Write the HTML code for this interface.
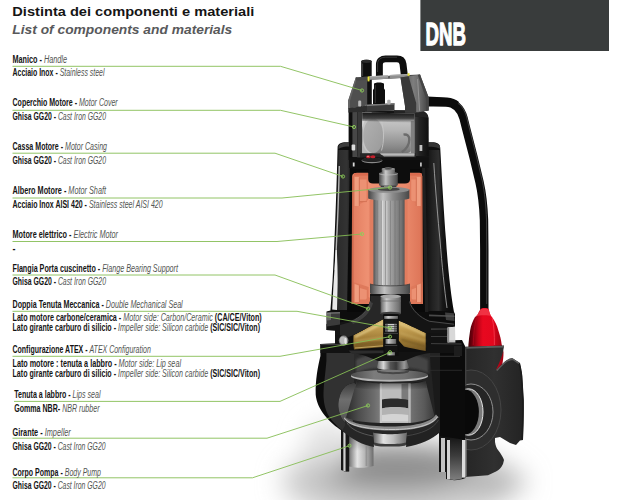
<!DOCTYPE html>
<html lang="it"><head><meta charset="utf-8"><title>DNB - Distinta dei componenti e materiali</title>
<style>
html,body{margin:0;padding:0;background:#fff;}
body{width:624px;height:500px;overflow:hidden;font-family:"Liberation Sans",sans-serif;}
svg{display:block;}
</style></head><body>
<svg width="624" height="500" viewBox="0 0 624 500">
<rect width="624" height="500" fill="#ffffff"/>
<defs>
  <filter id="blur14" x="-50%" y="-50%" width="200%" height="200%"><feGaussianBlur stdDeviation="13"/></filter>
  <filter id="blur5" x="-50%" y="-50%" width="200%" height="200%"><feGaussianBlur stdDeviation="5"/></filter>
  <filter id="blur2" x="-50%" y="-50%" width="200%" height="200%"><feGaussianBlur stdDeviation="1.6"/></filter>
  <filter id="blur1" x="-50%" y="-50%" width="200%" height="200%"><feGaussianBlur stdDeviation="0.8"/></filter>
  <linearGradient id="gFloat" x1="0" y1="0" x2="1" y2="0">
    <stop offset="0" stop-color="#3e0006"/><stop offset="0.14" stop-color="#7a000f"/><stop offset="0.3" stop-color="#c40418"/><stop offset="0.42" stop-color="#e8081f"/>
    <stop offset="0.72" stop-color="#e4071e"/><stop offset="0.8" stop-color="#c40418"/><stop offset="1" stop-color="#9a0312"/>
  </linearGradient>
  <linearGradient id="gRotor" x1="0" y1="0" x2="1" y2="0">
    <stop offset="0" stop-color="#525252"/><stop offset="0.1" stop-color="#858585"/><stop offset="0.3" stop-color="#cacaca"/>
    <stop offset="0.5" stop-color="#a8a8a8"/><stop offset="0.72" stop-color="#8a8a8a"/><stop offset="0.9" stop-color="#727272"/><stop offset="1" stop-color="#545454"/>
  </linearGradient>
  <linearGradient id="gRing" x1="0" y1="0" x2="1" y2="0">
    <stop offset="0" stop-color="#454545"/><stop offset="0.15" stop-color="#7a7a7a"/><stop offset="0.36" stop-color="#c2c2c2"/>
    <stop offset="0.6" stop-color="#8a8a8a"/><stop offset="0.85" stop-color="#626262"/><stop offset="1" stop-color="#474747"/>
  </linearGradient>
  <linearGradient id="gOrange" x1="0" y1="0" x2="1" y2="0">
    <stop offset="0" stop-color="#e27c5f"/><stop offset="0.22" stop-color="#ee9072"/><stop offset="0.75" stop-color="#ea896b"/><stop offset="1" stop-color="#dc7356"/>
  </linearGradient>
  <linearGradient id="gCap" x1="0" y1="0" x2="0" y2="1">
    <stop offset="0" stop-color="#c9c9c9"/><stop offset="0.35" stop-color="#b4b4b4"/><stop offset="0.8" stop-color="#8c8c8c"/><stop offset="1" stop-color="#767676"/>
  </linearGradient>
  <linearGradient id="gGold" x1="0" y1="0" x2="0" y2="1">
    <stop offset="0" stop-color="#dcc079"/><stop offset="0.3" stop-color="#c09c50"/><stop offset="0.65" stop-color="#a17d37"/><stop offset="1" stop-color="#745723"/>
  </linearGradient>
  <linearGradient id="gLeg" x1="0" y1="0" x2="1" y2="0">
    <stop offset="0" stop-color="#2a2a2a"/><stop offset="0.18" stop-color="#565656"/><stop offset="0.5" stop-color="#e4e4e4"/><stop offset="0.8" stop-color="#a9a9a9"/><stop offset="1" stop-color="#6c6c6c"/>
  </linearGradient>
  <linearGradient id="gLegShade" x1="0" y1="0" x2="0" y2="1">
    <stop offset="0" stop-color="#000" stop-opacity="0.85"/><stop offset="0.45" stop-color="#000" stop-opacity="0.25"/><stop offset="1" stop-color="#000" stop-opacity="0"/>
  </linearGradient>
  <linearGradient id="gImp" x1="0" y1="0" x2="1" y2="0">
    <stop offset="0" stop-color="#3c3c3c"/><stop offset="0.25" stop-color="#6c6c6c"/><stop offset="0.6" stop-color="#787878"/><stop offset="1" stop-color="#8c8c8c"/>
  </linearGradient>
  <linearGradient id="gImpOpen" x1="0" y1="0" x2="0" y2="1">
    <stop offset="0" stop-color="#5c5c5c"/><stop offset="0.35" stop-color="#8a8a8a"/><stop offset="0.7" stop-color="#dadada"/><stop offset="1" stop-color="#f4f4f4"/>
  </linearGradient>
  <linearGradient id="gHub" x1="0" y1="0" x2="1" y2="0">
    <stop offset="0" stop-color="#5a5a5a"/><stop offset="0.3" stop-color="#e2e2e2"/><stop offset="0.6" stop-color="#bdbdbd"/><stop offset="1" stop-color="#6a6a6a"/>
  </linearGradient>
  <linearGradient id="gBracketR" x1="0" y1="0" x2="1" y2="0">
    <stop offset="0" stop-color="#4a4a4a"/><stop offset="0.45" stop-color="#7e7e7e"/><stop offset="0.7" stop-color="#6a6a6a"/><stop offset="1" stop-color="#3e3e3e"/>
  </linearGradient>
</defs>
<!-- ground shadow -->
<g filter="url(#blur14)">
  <ellipse cx="400" cy="482" rx="118" ry="40" fill="#cbcbcb"/>
  <ellipse cx="394" cy="468" rx="80" ry="23" fill="#8e8e8e"/>
  <ellipse cx="328" cy="446" rx="24" ry="24" fill="#e0e0e0"/>
  <ellipse cx="496" cy="482" rx="30" ry="12" fill="#b4b4b4"/>
</g>

<!-- ===== CABLE ===== -->
<path d="M427,101.5 L446,102.3 C455,102.8 460.5,108 463.5,118 L466,128 L473.5,157 L479.5,182 C482,193 483.4,205 484,220 L484.3,250 L484.3,310" fill="none" stroke="#0b0b0b" stroke-width="8.4" stroke-linejoin="round"/>
<path d="M430,98.8 L447,99.6 C457,100.2 463.5,106 466.6,117 L469,127 L476.4,156 L482.3,181 C484.6,192 486,205 486.5,220 L486.7,250 L486.7,304" fill="none" stroke="#555" stroke-width="1" opacity="0.7"/>
<path d="M427,96.6 L447,97.4 C452,97.8 456,99.4 459,102 L454,108.4 C452,107 449,106.4 446,106.4 L427,106.4 Z" fill="#0b0b0b"/>

<!-- ===== FLOAT ===== -->
<path d="M480.6,309 C481,307.5 488,307.5 488.6,309 L489.5,312 C490,314.5 491,316 492,317 C495,321 497.2,326 498.2,330 C500,335.5 501.2,340 501.6,344 L503.5,352 C503.5,362 501.5,370 498,375 L468,375 L468.4,345 C468.8,340 469.4,335 470.2,330 C471,325.5 472.8,320.5 475,317 C476.5,316 478,314.5 478.8,312 Z" fill="url(#gFloat)"/>
<!-- collar highlight -->
<path d="M480.8,309.2 C482,308.2 487.4,308.2 488.4,309.2 L489.3,312.2 C489.8,314 490.6,315.3 491.4,316.4 C488,315 479.5,315 475.8,316.6 C477,315.5 478.4,314 479,312.2 Z" fill="#f2394a" opacity="0.85"/>
<!-- facet edges -->
<path d="M476.4,318 C474.5,326 473.5,335 473.2,345" fill="none" stroke="#b80a1c" stroke-width="0.9" opacity="0.7"/>
<path d="M492.2,318 C494,326 494.6,335 494.4,345" fill="none" stroke="#ff5566" stroke-width="0.9" opacity="0.6"/>

<!-- ===== LEGS ===== -->
<defs>
  <linearGradient id="gLegR" x1="0" y1="0" x2="0" y2="1">
    <stop offset="0" stop-color="#141414"/><stop offset="0.45" stop-color="#3c3c3c"/><stop offset="1" stop-color="#7e7e7e"/>
  </linearGradient>
</defs>
<!-- right leg -->
<path d="M439,432 L465.5,432 L465.5,478 C460,480.5 452,480.8 446,479 L446,472 L439,472 Z" fill="#151515"/>
<path d="M450,436 L462,436 L462,478.6 C458,480 454,480.2 450,479.6 Z" fill="url(#gLegR)"/>
<rect x="441" y="438" width="4" height="34" fill="#c3c3c3"/>
<rect x="447" y="440" width="3" height="39.4" fill="#d2d2d2"/>
<rect x="462" y="440" width="3.4" height="37.6" fill="#dcdcdc"/>
<!-- left leg -->
<path d="M341,427 L373.5,430 L373.5,466 C366,468.5 357,468 349,466.5 L349,471.5 L344.5,471.5 L341,470 Z" fill="url(#gLeg)"/>
<rect x="341" y="427" width="32.5" height="24" fill="url(#gLegShade)"/>
<rect x="365.6" y="440" width="1.6" height="26" fill="#8a8a8a" opacity="0.7"/>
<rect x="341" y="427" width="2.2" height="43" fill="#151515"/>
<rect x="343.4" y="432" width="2.2" height="39" fill="#cfcfcf"/>
<rect x="345.8" y="430" width="3.4" height="41.5" fill="#181818"/>

<!-- ===== PUMP BODY (volute) ===== -->
<defs>
  <linearGradient id="gInnerWall" x1="0" y1="0" x2="0" y2="1">
    <stop offset="0" stop-color="#3a3a3a"/><stop offset="0.35" stop-color="#6e6e6e"/><stop offset="0.7" stop-color="#5a5a5a"/><stop offset="1" stop-color="#2c2c2c"/>
  </linearGradient>
  <radialGradient id="gVolOut" cx="0.35" cy="0.45" r="0.6">
    <stop offset="0" stop-color="#1f1f1f"/><stop offset="1" stop-color="#0a0a0a"/>
  </radialGradient>
</defs>
<!-- outer silhouette -->
<path d="M320.4,344 L462,340 L465,346 L465,437 L440,432 C432,438 420,443 408.5,444.5 L376,444.5 C364,443 352,437 342,430.7 C330,423 317,410 315.7,394.7 C315.2,380 318,366 320.4,356 Z" fill="#0c0c0c"/>
<!-- cut face (dark gray) -->
<path d="M326.4,346.6 L354,346.6 L354,382.7 C350,383.5 347.5,384.7 345.6,386.3 C342.5,389.5 340.5,393 339.6,397 C338.6,400.5 338.2,403.5 338.4,406.7 C338.8,411 340,415 342,418.7 C344.5,423 348,426.5 351.7,429.5 L343.2,430.7 C340.5,429 338,427 336,424.7 C332.5,421.5 329.8,418 327.6,413.9 C325.8,410 324.6,406 324,401.9 C323.5,398.5 323.4,395.5 323.5,392.3 C323.6,387.5 324,382.5 324.7,377.9 C325.3,372.5 325.9,367 326.4,361 Z" fill="#313131"/>
<path d="M326.4,346.6 L354,346.6 L354,350 L326.4,350 Z" fill="#232323"/>
<!-- under-plate region / interior background -->
<path d="M354,352 L440,352 L440,432 C432,438 420,443 408.5,444.5 L376,444.5 C366,443.3 358,439.5 351.7,429.5 C348,426.5 344.5,423 342,418.7 C340,415 338.8,411 338.4,406.7 C338.2,403.5 338.6,400.5 339.6,397 C340.5,393 342.5,389.5 345.6,386.3 C347.5,384.7 350,383.5 354,382.7 Z" fill="#232323"/>
<!-- inner wall crescent (lighter) -->
<path d="M354,382.7 C350,383.5 347.5,384.7 345.6,386.3 C342.5,389.5 340.5,393 339.6,397 C338.6,400.5 338.2,403.5 338.4,406.7 C338.8,411 340,415 342,418.7 C344.5,423 348,426.5 351.7,429.5 L356.5,430.5 C353.5,425 351.8,419 351.7,411.5 C351.7,402 353.5,392 356.5,385 Z" fill="url(#gInnerWall)"/>
<!-- right interior wall (behind impeller) -->
<path d="M430,356 L440,356 L440,430 L436,420 Z" fill="#1a1a1a"/>

<!-- ===== IMPELLER ===== -->
<defs>
  <linearGradient id="gImpL" x1="0" y1="0" x2="1" y2="0">
    <stop offset="0" stop-color="#2a2a2a"/><stop offset="0.35" stop-color="#4c4c4c"/><stop offset="0.8" stop-color="#6c6c6c"/><stop offset="1" stop-color="#7e7e7e"/>
  </linearGradient>
  <linearGradient id="gImpR" x1="0" y1="0" x2="1" y2="0">
    <stop offset="0" stop-color="#9c9c9c"/><stop offset="0.12" stop-color="#707070"/><stop offset="0.6" stop-color="#5a5a5a"/><stop offset="1" stop-color="#3a3a3a"/>
  </linearGradient>
  <linearGradient id="gImpTopShade" x1="0" y1="0" x2="0" y2="1">
    <stop offset="0" stop-color="#000" stop-opacity="0.55"/><stop offset="1" stop-color="#000" stop-opacity="0"/>
  </linearGradient>
  <linearGradient id="gCollar" x1="0" y1="0" x2="1" y2="0">
    <stop offset="0" stop-color="#6a6a6a"/><stop offset="0.2" stop-color="#d8d8d8"/><stop offset="0.42" stop-color="#555"/><stop offset="0.6" stop-color="#3a3a3a"/><stop offset="0.85" stop-color="#9a9a9a"/><stop offset="1" stop-color="#555"/>
  </linearGradient>
  <linearGradient id="gShroud" x1="0" y1="0" x2="1" y2="0">
    <stop offset="0" stop-color="#4c4c4c"/><stop offset="0.3" stop-color="#7c7c7c"/><stop offset="0.7" stop-color="#727272"/><stop offset="1" stop-color="#4e4e4e"/>
  </linearGradient>
</defs>
<!-- dark neck region under seal plate -->
<path d="M354,353 L430,353 L430,374 L354,374 Z" fill="#2a2a2a"/>
<path d="M356,360 C362,356 372,354.5 380,354.5 L380,368 C370,368.5 362,370 356,373 Z" fill="#4a4a4a" filter="url(#blur1)"/>
<path d="M428,360 C422,356 412,354.5 405,354.5 L405,368 C414,368.5 422,370 428,373 Z" fill="#444" filter="url(#blur1)"/>
<!-- silver collar -->
<path d="M379,358.5 C379,355.5 406,355.5 406,358.5 L409,367.5 C409,371 377,371 377,367.5 Z" fill="url(#gCollar)"/>
<ellipse cx="392.5" cy="358.3" rx="13.5" ry="3" fill="#bdbdbd"/>
<ellipse cx="392.5" cy="358" rx="9" ry="2" fill="#1b1b1b"/>
<!-- top shroud (disc) -->
<ellipse cx="389.5" cy="376.2" rx="38.6" ry="5.6" fill="#b4b4b4"/>
<ellipse cx="389.5" cy="374.8" rx="38.4" ry="5" fill="url(#gShroud)"/>
<path d="M377,369.5 C377,373 409,373 409,369.5 L409,371.5 C409,375 377,375 377,371.5 Z" fill="#3c3c3c" opacity="0.8"/>
<!-- impeller body left -->
<path d="M357,380.5 C364,382.8 375,383.4 381,383.5 L381,423 C368,422.5 352,421 346,417.5 Z" fill="url(#gImpL)"/>
<!-- impeller body right -->
<path d="M408.5,383.5 C416,383.3 421,382.5 425.5,381 L434.5,416 C430,420 418,422.5 408.5,423 Z" fill="url(#gImpR)"/>
<!-- opening -->
<path d="M381,383.5 L408.5,383.5 L408.5,423 L381,423 Z" fill="#bcbcbc"/>
<path d="M401.5,384 L408.5,384 L408.5,400.5 L401.5,400.5 Z" fill="#7b7b7b"/>
<path d="M382,399.5 C390,398 400,398 408.5,400 L408.5,408.5 C400,406.5 390,406.5 382,408.5 Z" fill="#2c2c2c"/>
<path d="M382,408.5 C390,406.5 400,406.5 408.5,408.5 L408.5,421.5 L382,421.5 Z" fill="#b2b2b2"/>
<path d="M382,415 C390,413.5 400,413.5 408.5,415 L408.5,421.5 L382,421.5 Z" fill="#d4d4d4"/>
<!-- vane edges -->
<rect x="379.8" y="383.5" width="2.2" height="39.5" fill="#c9c9c9"/>
<rect x="408.3" y="383.3" width="2.4" height="39.5" fill="#b8b8b8"/>
<!-- shadow under top shroud -->
<path d="M357,380.5 C370,384.5 410,384.5 425.5,381 L427,388 C410,391 370,391 355.5,387.5 Z" fill="url(#gImpTopShade)"/>
<!-- bottom shroud ring -->
<path d="M344,416.5 C350,424.5 372,426.5 392,426.5 C412,426.5 431,423 436,414.5 L438.5,417.5 C433,429 413,433 392,433 C371,433 351,430.5 345,421.5 Z" fill="#8a8a8a"/>
<path d="M344.5,419 C350,428 372,430.5 392,430.5 C412,430.5 432,427 437.8,417.5 L438.5,419.5 C433,431 413,435 392,435 C371,435 351,432.5 345,423.5 Z" fill="#262626"/>
<path d="M344.3,418.3 C350,427 372,429.5 392,429.5 C412,429.5 432,426 437.6,416.6" fill="none" stroke="#c9c9c9" stroke-width="1"/>
<!-- hub below -->
<path d="M373,432.5 C380,434.8 400,434.8 407,432.5 L406,443 C400,445 380,445 374,443 Z" fill="url(#gHub)"/>
<path d="M374,442.6 C380,444.6 400,444.6 406,442.6 L405.6,445.4 C400,447 380,447 374.4,445.4 Z" fill="#3d3d3d"/>
<!-- volute lower lip (black) in front -->
<path d="M342,430.7 C345,426 346,423 346.5,421.5 C351,430 362,434 373,436 L374,447 C362,445 352,439 342,430.7 Z" fill="#262626"/>
<path d="M440,432 C441,426 440.5,422 439,418.5 C434,429 421,433.5 407,435.8 L406,447 C420,445 432,439.5 440,432 Z" fill="#222"/>
<path d="M346.8,422.5 C351,430 362,434 373,436" fill="none" stroke="#5e5e5e" stroke-width="0.9"/>
<path d="M438.5,420 C433,429.5 421,433.5 407,435.8" fill="none" stroke="#484848" stroke-width="0.9"/>

<!-- ===== DISCHARGE FLANGE ===== -->
<defs>
  <linearGradient id="gFlangeFace" x1="0" y1="0" x2="1" y2="0">
    <stop offset="0" stop-color="#262626"/><stop offset="0.5" stop-color="#303030"/><stop offset="1" stop-color="#232323"/>
  </linearGradient>
  <clipPath id="clipFlange">
    <path d="M465,346.8 L504,345.6 C503.5,352 501,360 496,370 C500,366 504,362 507,360 C509.5,358.6 511.5,358.2 513,358.4 L520,363 C521.5,369 522.5,375 522.6,380 L523.8,400 C524,414 523.6,428 523,440 L520,440.5 L516,445 L510,443 L500,437 L495,438 L495,442 C495.6,446 496.8,448.5 498,450 C501,454 503,457 504,460 L503,464 C501,468 499,470 496,471.5 L488,475.3 L465,477 Z"/>
  </clipPath>
</defs>
<!-- discharge neck (dark) behind flange -->
<path d="M440,352 L466,352 L466,440 L440,436 Z" fill="#0b0b0b"/>
<!-- flange silhouette -->
<path d="M465,346.8 L504,345.6 C503.5,352 501,360 496,370 C500,366 504,362 507,360 C509.5,358.6 511.5,358.2 513,358.4 L520,363 C521.5,369 522.5,375 522.6,380 L523.8,400 C524,414 523.6,428 523,440 L520,440.5 L516,445 L510,443 L500,437 L495,438 L495,442 C495.6,446 496.8,448.5 498,450 C501,454 503,457 504,460 L503,464 C501,468 499,470 496,471.5 L488,475.3 L465,477 Z" fill="url(#gFlangeFace)"/>
<g clip-path="url(#clipFlange)">
  <!-- boss ring -->
  <ellipse cx="471" cy="410" rx="30" ry="40" fill="#2e2e2e" stroke="#484848" stroke-width="0.9"/>
  <!-- outer port ring -->
  <ellipse cx="471" cy="412" rx="22" ry="28" fill="#252525" stroke="#a9a9a9" stroke-width="0.8"/>
  <!-- pipe inner wall crescent -->
  <ellipse cx="468.5" cy="412" rx="14.5" ry="23.2" fill="#7a7a7a" stroke="#e6e6e6" stroke-width="1"/>
  <ellipse cx="465.3" cy="412" rx="13.6" ry="22.4" fill="#090909"/>
  <!-- bevel highlights -->
  <path d="M465,346.8 L504,345.6 L503.8,347.6 L465,348.8 Z" fill="#5a5a5a"/>
  <path d="M497.5,371 C501,367 504.5,363.6 507.5,361.6 C510,360.2 511.8,360 513,360.2 L518.6,364 L520,363 L513,358.4 C511.5,358.2 509.5,358.6 507,360 C504,362 500,366 496,370 Z" fill="#5c5c5c"/>
  <path d="M518.6,364 C520,370 520.8,375 521,380 L522.2,400 C522.4,414 522,428 521.4,439 L523,440 C523.6,428 524,414 523.8,400 L522.6,380 C522.5,375 521.5,369 520,363 Z" fill="#1b1b1b"/>
  <!-- left side face of bottom lobe (lit) -->
  <path d="M465,440 L466.6,440 L466.6,476.6 L465,477 Z" fill="#8c8c8c"/>
  <path d="M465,346.8 L466.4,346.8 L466.4,386 L465,386 Z" fill="#3f3f3f"/>
</g>

<!-- ===== MOTOR CASING ===== -->
<defs>
  <linearGradient id="gCaseR" x1="0" y1="0" x2="1" y2="0">
    <stop offset="0" stop-color="#0b0b0b"/><stop offset="0.3" stop-color="#222"/><stop offset="0.5" stop-color="#2e2e2e"/><stop offset="0.65" stop-color="#161616"/><stop offset="1" stop-color="#0a0a0a"/>
  </linearGradient>
  <linearGradient id="gCaseL" x1="0" y1="0" x2="1" y2="0">
    <stop offset="0" stop-color="#0c0c0c"/><stop offset="0.3" stop-color="#2b2b2b"/><stop offset="0.75" stop-color="#333"/><stop offset="1" stop-color="#1a1a1a"/>
  </linearGradient>
</defs>
<!-- outer silhouette -->
<path d="M337.6,147.5 C337.6,144 341,142.3 346,142.3 L432,142.3 C437,142.3 440,144 440.2,147.5 C442,180 444,215 446,240 C448,270 451,295 454,312 L455,314 L455,326.5 L447.5,327.5 L447.5,342 L335,342 L335,330.5 L326.5,330 L326.5,311.5 L330.4,310.5 C331.2,300 332,290 332.6,280 C334,255 336.3,200 337.6,147.5 Z" fill="#0d0d0d"/>
<!-- left wall tone -->
<path d="M338.5,150 L352,150 L352,310 L331.4,310 C332.2,300 333,290 333.6,280 C335,255 337.3,200 338.5,150 Z" fill="url(#gCaseL)"/>
<!-- right side glossy -->
<path d="M424,150 L439.5,150 C441,180 443.2,215 445.2,240 C447.2,270 450,295 453,311 L424,311 Z" fill="url(#gCaseR)"/>
<path d="M433.8,163 C435.5,190 438,220 440,240 C442,265 444.5,290 447,308" fill="none" stroke="#b0b0b0" stroke-width="1" opacity="0.8"/>
<!-- left rim light -->
<path d="M339.3,166 C338.6,195 337.6,222 336.6,240 C336,252 335.6,262 335.3,270" fill="none" stroke="#c4c4c4" stroke-width="1.4" opacity="0.9"/>
<path d="M335.6,250 C335,262 334.2,275 333.4,286 L332.2,309.6 L337,310 L337.6,286 C337.8,274 337.4,262 336.8,250 Z" fill="#f4f4f4" opacity="0.95"/>
<!-- interior cavity (cutaway) -->
<path d="M350,160 L422,160 L427,312 L347,312 Z" fill="#090909"/>
<path d="M422,160 L425,160 L428.5,312 L425,312 Z" fill="#1f1f1f"/>

<!-- ===== STATOR (orange) ===== -->
<path d="M352.2,176 C352.2,174 354,173 356,173 L419,173 C421,173 422.2,174 422.2,176 L423,304 L351.5,304 Z" fill="url(#gOrange)"/>
<!-- winding heads top -->
<path d="M353.4,175.5 C353.4,173.6 355,172.8 357,172.8 L368,172.8 L368,183.5 L368.2,200 L353.4,207 Z" fill="#e07b5d"/>
<path d="M354.6,177 L359,177 L359,206 L354.6,206 Z" fill="#f09d7f"/>
<path d="M359.6,179.5 L366.6,179.5 L366.6,199 C366.6,200.5 365.6,201.2 364.4,201.2 L359.6,201.2 Z" fill="#ec9173"/>
<path d="M359.3,177.5 L359.3,206" stroke="#cf6f52" stroke-width="0.8" fill="none"/>
<path d="M359.6,201.6 L367,201.6" stroke="#cf6f52" stroke-width="0.8" fill="none"/>
<path d="M354,173.2 L368,173.2 L368,175.6 L354,175.6 Z" fill="#d96a4e"/>
<path d="M410,172.8 L419.5,172.8 C421,172.8 421.8,173.8 421.8,175.5 L422,207 L410.2,200 Z" fill="#e07b5d"/>
<path d="M416.6,177 L420.8,177 L420.8,206 L416.6,206 Z" fill="#f09d7f"/>
<path d="M411.2,179.5 L416,179.5 L416,201.2 L413,201.2 C411.8,201.2 411.2,200.4 411.2,199 Z" fill="#ec9173"/>
<path d="M416.3,177.5 L416.3,206" stroke="#cf6f52" stroke-width="0.8" fill="none"/>
<path d="M410,173.2 L421.6,173.2 L421.6,175.6 L410,175.6 Z" fill="#d96a4e"/>
<!-- winding heads bottom -->
<path d="M353.2,282 L368.6,287 L368.6,297 L371.5,299 L371.5,304 L352.6,304 Z" fill="#de795b"/>
<path d="M354.6,284 L359,285.4 L359,302 L354.6,302 Z" fill="#f09d7f"/>
<path d="M359.8,288 L366.8,290 L366.8,297.6 C366.8,299 366,299.6 364.8,299.6 L359.8,299.6 Z" fill="#ec9173"/>
<path d="M359.4,285.6 L359.4,302" stroke="#cf6f52" stroke-width="0.8" fill="none"/>
<path d="M422.4,282 L410.6,287 L410.6,297 L408,299 L408,304 L423,304 Z" fill="#de795b"/>
<path d="M416.8,285 L421.2,283.6 L421.4,302 L416.8,302 Z" fill="#f09d7f"/>
<path d="M411.6,289.6 L416.2,287.8 L416.2,299.6 L413.4,299.6 C412.2,299.6 411.6,299 411.6,297.6 Z" fill="#ec9173"/>
<path d="M416.5,285.4 L416.5,302" stroke="#cf6f52" stroke-width="0.8" fill="none"/>
<!-- stator edge shading -->
<rect x="352" y="176" width="1.6" height="128" fill="#c96448" opacity="0.8"/>
<rect x="420.8" y="176" width="1.6" height="128" fill="#c96448" opacity="0.7"/>
<rect x="369.5" y="200" width="3.8" height="86" fill="#d87356" opacity="0.65"/>
<rect x="404" y="200" width="3.6" height="86" fill="#d87356" opacity="0.55"/>

<!-- ===== ROTOR ===== -->
<rect x="373.4" y="198" width="31.2" height="88" fill="url(#gRotor)"/>
<g stroke="#555" stroke-width="0.7" opacity="0.5">
  <line x1="377.2" y1="200" x2="377.2" y2="285"/><line x1="381.2" y1="200" x2="381.2" y2="285"/>
  <line x1="385.6" y1="200" x2="385.6" y2="285"/><line x1="390.4" y1="200" x2="390.4" y2="285"/>
  <line x1="395" y1="200" x2="395" y2="285"/><line x1="399.4" y1="200" x2="399.4" y2="285"/>
</g>
<g stroke="#f4f4f4" stroke-width="0.8" opacity="0.55">
  <line x1="382.4" y1="200" x2="382.4" y2="285"/><line x1="386.8" y1="200" x2="386.8" y2="285"/>
</g>
<!-- upper bearing housing (black cup) -->
<path d="M353,160 L420,160 L420,169 L410,169 L410,179.5 C410,182 408,183.6 405,183.6 L373,183.6 C370,183.6 368.2,182 368.2,179.5 L368.2,169 L353,169 Z" fill="#0d0d0d"/>
<!-- bearing (silver) -->
<path d="M379,173.5 C379,171.6 397.8,171.6 397.8,173.5 L397.8,185 C397.8,187 379,187 379,185 Z" fill="url(#gRing)"/>
<path d="M381.7,169 C381.7,167.4 395,167.4 395,169 L395,173 C395,174.6 381.7,174.6 381.7,173 Z" fill="url(#gRotor)"/>
<ellipse cx="388.35" cy="169" rx="6.65" ry="1.5" fill="#8e8e8e"/>
<ellipse cx="388.35" cy="168.8" rx="3.6" ry="0.8" fill="#4a4a4a"/>
<path d="M379,173.5 C379,175.4 397.8,175.4 397.8,173.5" fill="none" stroke="#cfcfcf" stroke-width="0.7" opacity="0.8"/>
<!-- dark gap / shaft -->
<path d="M380.6,185.6 L396.4,185.6 L396.4,189.5 L380.6,189.5 Z" fill="#3a3a3a"/>
<rect x="384" y="185.8" width="8" height="3.6" fill="#7d7d7d"/>
<!-- top rotor ring -->
<path d="M368.2,189.6 L409.4,189.6 L409.4,198.6 C404,201.6 374,201.6 368.2,198.6 Z" fill="url(#gRing)"/>
<ellipse cx="388.8" cy="189.8" rx="20.6" ry="3" fill="#8c8c8c"/>
<ellipse cx="388.8" cy="189.3" rx="11" ry="1.7" fill="#454545"/>
<!-- bottom rotor ring -->
<path d="M370,284 C376,286.5 404,286.5 410,284 L410,293.5 C404,296.5 376,296.5 370,293.5 Z" fill="url(#gRing)"/>
<path d="M370,284 C376,286.5 404,286.5 410,284" fill="none" stroke="#3a3a3a" stroke-width="0.8"/>

<!-- ===== BEARING FLANGE / OIL CHAMBER / SEAL ===== -->
<!-- pump-body top flange (black) -->
<path d="M335,330 L447.5,330 L447.5,342.5 L462,343 L462,353 L430,353 C420,354 412,357.5 404,361 L378,361 C370,357.5 362,354 352,353 L320.4,353 L320.4,344 L335,343.4 Z" fill="#121212"/>
<path d="M321,344.6 L340,344.6" stroke="#4b4b4b" stroke-width="0.8" fill="none"/>
<path d="M431,343.6 L461.5,344" stroke="#4a4a4a" stroke-width="0.8" fill="none"/>
<!-- oil chamber background -->
<path d="M348.5,318 L426.5,318 L426.5,352 L348.5,352 Z" fill="#0e0e0e"/>
<!-- gold wings -->
<path d="M353.6,335 C360,331.5 370,326.5 377,322.4 L383.4,319 L383.4,347 L354,349.5 C353.3,345 353.3,339 353.6,335 Z" fill="url(#gGold)"/>
<path d="M398.6,320.5 C406,323.5 416,328.5 425.7,332.8 L425.7,351 C418,349.5 410,348 404,346.5 L398.6,340.5 Z" fill="url(#gGold)"/>
<path d="M355,337 C362,333.5 371,329 382.5,323" fill="none" stroke="#f3e0a0" stroke-width="1.8" opacity="0.85" filter="url(#blur1)"/>
<path d="M400,323.5 C408,327 417,331 425,335" fill="none" stroke="#ecd590" stroke-width="1.6" opacity="0.75" filter="url(#blur1)"/>
<path d="M355,341.3 L383,337.5" fill="none" stroke="#e2c67c" stroke-width="1.2" opacity="0.75" filter="url(#blur1)"/>
<path d="M355,344.8 L383,342.3" fill="none" stroke="#6a4f1f" stroke-width="1.5" opacity="0.75" filter="url(#blur1)"/>
<path d="M400,333 L425.5,341" fill="none" stroke="#e0c47a" stroke-width="1.1" opacity="0.6" filter="url(#blur1)"/>
<path d="M401,339.5 L425.5,346.5" fill="none" stroke="#6a4f1f" stroke-width="1.6" opacity="0.75" filter="url(#blur1)"/>
<path d="M355,348 L383,345.8" fill="none" stroke="#d9bd74" stroke-width="0.9" opacity="0.8"/>
<!-- bearing flange body (black bell) : band between upper outline and gold top -->
<path d="M370,294 L410,294 L410,301 C412,309 420,317 430,321 L455,324 L455,326.5 L447.5,327.5 L447.5,334 L425.7,333 C416,328.5 406,323.5 398.6,320.5 L398.6,313 L383.4,313 L383.4,319 L377,322.4 C370,326.5 360,331.5 353.6,335 L348.5,337 L335,335 L335,330.5 L326.5,330 L326.5,324 L350,321 C360,317 368,309 370,301 Z" fill="#141414"/>
<!-- cut face of bell (slightly lighter) -->
<path d="M370.5,296 L380,296 L380,313.5 L383.4,313.5 L383.4,319 L377,322.4 C370,326.5 360,331.5 353.6,335 L348.5,337 L340,335 L340,325 L351,322 C361,318 369,310 370.5,302 Z" fill="#272727"/>
<path d="M351,321.5 C361,317.5 369,309.5 370.5,301.5" fill="none" stroke="#5a5a5a" stroke-width="0.9"/>
<path d="M409.5,301.5 C411.5,309.5 419.5,317.5 429.5,321.3 L454,324.2" fill="none" stroke="#505050" stroke-width="0.9"/>
<path d="M327,312.5 L340,312 L340,324.6 L327,326.4 Z" fill="#3a3a3a"/>
<path d="M327,312.5 L340,312 L340,313.4 L327,314 Z" fill="#6a6a6a"/>
<path d="M351.5,321.5 C361,317.5 368.5,310 370.3,302 L373,303 C371,312 363,320 353,324 Z" fill="#454545" opacity="0.8"/>
<!-- lower bearing (silver) -->
<rect x="380.4" y="296" width="20.6" height="18" fill="url(#gRotor)"/>
<ellipse cx="390.7" cy="296.3" rx="10.3" ry="2" fill="#a8a8a8"/>
<rect x="380.4" y="300.5" width="20.6" height="1" fill="#6a6a6a" opacity="0.7"/>
<ellipse cx="390.7" cy="313.6" rx="10.3" ry="1.8" fill="#3c3c3c"/>
<!-- mechanical seal stack -->
<rect x="383.4" y="314" width="15.2" height="42" fill="#0e0e0e"/>
<rect x="384" y="316" width="14" height="2.8" fill="url(#gRotor)"/>
<rect x="384.6" y="319" width="12.8" height="4.6" rx="1" fill="#181818"/>
<rect x="385.4" y="323.6" width="11.2" height="8.6" fill="#5a5a5a"/>
<g fill="#d0d0d0">
<rect x="385.4" y="324" width="11.2" height="1.1"/><rect x="385.4" y="326.1" width="11.2" height="1.1"/><rect x="385.4" y="328.2" width="11.2" height="1.1"/><rect x="385.4" y="330.3" width="11.2" height="1.1"/>
</g>
<rect x="385.4" y="323.6" width="2.4" height="8.6" fill="#2a2a2a" opacity="0.6"/>
<rect x="394" y="323.6" width="2.6" height="8.6" fill="#2a2a2a" opacity="0.5"/>
<rect x="383.8" y="332.4" width="14.6" height="6.2" rx="1" fill="#131313"/>
<path d="M384.2,333.4 L398,333.4" stroke="#555" stroke-width="0.7" fill="none"/>
<rect x="385.4" y="339" width="10.8" height="4.8" fill="url(#gRotor)"/>
<rect x="384.4" y="344.2" width="13.2" height="8.2" rx="1" fill="#121212"/>
<path d="M384.8,345.4 L397.2,345.4" stroke="#5a5a5a" stroke-width="0.7" fill="none"/>
<rect x="387" y="352.2" width="8" height="3.2" fill="url(#gRotor)"/>
<!-- plate under gold -->
<path d="M348.5,350.5 L383.5,350.5 L383.5,353 L352,354 Z" fill="#2c2c2c"/>
<!-- plug -->
<ellipse cx="343.6" cy="340.6" rx="4.8" ry="5.1" fill="#7d7d7d"/>
<ellipse cx="342.8" cy="340.2" rx="3" ry="3.8" fill="#b8b8b8"/>
<ellipse cx="345.6" cy="341" rx="1.3" ry="3.4" fill="#e4e4e4"/>
<!-- glossy bits on casing base -->
<path d="M447.5,327.6 L455,326.8 L455.4,342.6 L447.5,342.4 Z" fill="#d4d4d4" opacity="0.9"/>
<path d="M447.5,327.6 L449.2,327.4 L449.2,342.4 L447.5,342.4 Z" fill="#8a8a8a"/>
<path d="M445,312.5 L453.8,313.2 L454.6,321 L446,320 Z" fill="#9c9c9c" opacity="0.35"/>
<path d="M327,313 L331,312.7 L331,320 L326.8,320.6 Z" fill="#8a8a8a" opacity="0.55"/>
<path d="M430,356.3 L460,356.3" stroke="#3a3a3a" stroke-width="0.8" fill="none"/>
<path d="M428,370.3 L462,370.3" stroke="#2f2f2f" stroke-width="0.8" fill="none"/>
<path d="M454,346 L462,346 L462,356 L454,356 Z" fill="#1d1d1d"/>
<path d="M429,314.6 L454.6,315.4 L454.6,317 L429,316.2 Z" fill="#5a5a5a" opacity="0.8"/>
<path d="M431,328.6 L447,328.4 L447,329.6 L431,329.8 Z" fill="#484848"/>
<path d="M431,336 L447,336 L447,337 L431,337 Z" fill="#3a3a3a"/>

<!-- ===== MOTOR COVER ===== -->
<defs>
  <linearGradient id="gLidShade" x1="0" y1="0" x2="0" y2="1">
    <stop offset="0" stop-color="#161616" stop-opacity="1"/><stop offset="0.55" stop-color="#2a2a2a" stop-opacity="0.85"/><stop offset="1" stop-color="#555" stop-opacity="0"/>
  </linearGradient>
  <linearGradient id="gCoverR" x1="0" y1="0" x2="1" y2="0">
    <stop offset="0" stop-color="#3a3a3a"/><stop offset="0.35" stop-color="#232323"/><stop offset="1" stop-color="#0f0f0f"/>
  </linearGradient>
  <linearGradient id="gCapEnd" x1="0" y1="0" x2="1" y2="1">
    <stop offset="0" stop-color="#b2b2b2"/><stop offset="1" stop-color="#9a9a9a"/>
  </linearGradient>
</defs>
<!-- outer dark body -->
<path d="M349,112 C349,110.5 350.5,110 353,110 L420,110.5 C425,111 428.5,114 428.5,118.5 L428.5,160 L349,160 Z" fill="#141414"/>
<!-- top face of cover (right part) -->
<path d="M394,110.3 L420,110.5 C425,111 428,114 428.3,118 L414.5,116.5 L394,113.5 Z" fill="#242424"/>
<!-- right wall -->
<path d="M414.5,116.5 L428.3,118 L428.5,156 L414.5,156 Z" fill="url(#gCoverR)"/>
<!-- left wall (cut face) + outer black column -->
<rect x="348.6" y="112" width="4" height="48" fill="#0e0e0e"/>
<rect x="352.4" y="110" width="5" height="47" fill="#474747"/>
<rect x="357.2" y="106" width="5.2" height="52" fill="#383838"/>
<rect x="357" y="112" width="0.8" height="44" fill="#2a2a2a"/>
<!-- interior opening -->
<path d="M362.2,112.5 L414.5,113.5 L414.5,154.5 L362.2,154.5 Z" fill="#c4c4c4"/>
<!-- capacitor body -->
<path d="M372,118.4 L407.5,118.4 C409.5,118.4 410.8,119.6 410.8,121.6 L410.8,150 C410.8,152 409.5,153 407.5,153 L372,153 Z" fill="url(#gCap)"/>
<!-- capacitor end cap -->
<ellipse cx="373.2" cy="135.7" rx="10" ry="17.3" fill="url(#gCapEnd)"/>
<path d="M381.5,121.5 C384.2,130 384.2,142 381.5,150.5" fill="none" stroke="#c9c9c9" stroke-width="0.9" opacity="0.9"/>
<!-- soft corners of cavity -->
<path d="M362.2,112.5 L372,112.5 C366,116 363.5,122 362.2,130 Z" fill="#d6d6d6"/>
<path d="M362.2,141 C363.5,148 366,152 371,154.5 L362.2,154.5 Z" fill="#b6b6b6"/>
<!-- wire clip -->
<path d="M403.5,134.6 C407,133.8 409.3,136 409.3,139.5 C409.3,144.5 406.5,149 401.8,152.3" fill="none" stroke="#6c6c6c" stroke-width="2.4"/>
<!-- underside-of-lid shadow -->
<path d="M362.2,112.5 L414.5,113.5 L414.5,123 L362.2,121 Z" fill="url(#gLidShade)"/>
<rect x="410.8" y="121" width="3.7" height="33.5" fill="#6a6a6a" opacity="0.75"/>
<!-- shelf under capacitor -->
<rect x="360" y="153.2" width="56" height="4.6" fill="#262626"/>
<path d="M380,153.6 L414.5,153.6 L414.5,156.6 L384,156.6 Z" fill="#a2a2a2"/>
<path d="M380,153.6 L414.5,153.6 L414.5,154.6 L381,154.6 Z" fill="#d2d2d2"/>
<!-- floor plate (cut) -->
<path d="M349,157.5 L428.5,157.5 L428.5,168 L420,168 L420,160 L353,160 L353,168 L349,168 Z" fill="#111"/>
<!-- red thermal dots + disk -->
<ellipse cx="372" cy="160.6" rx="10.5" ry="2.7" fill="#8a8a8a"/>
<ellipse cx="372" cy="159.8" rx="10.3" ry="2.3" fill="#222"/>
<ellipse cx="368.4" cy="156.7" rx="2.4" ry="1.5" fill="#c4202c"/>
<ellipse cx="373" cy="156.7" rx="2.4" ry="1.5" fill="#c4202c"/>
<ellipse cx="368" cy="156.3" rx="1" ry="0.6" fill="#f08a90"/>
<!-- bolts -->
<rect x="351.6" y="144.6" width="3.6" height="6" rx="1" fill="#dcdcdc"/>
<rect x="352.8" y="162.5" width="1.8" height="4" fill="#d8d8d8"/>
<rect x="419.5" y="145" width="2.8" height="6" fill="#c2c2c2"/>
<rect x="420" y="162.5" width="1.8" height="4" fill="#bdbdbd"/>
<!-- casing top rim overlaps cover base -->
<path d="M338.5,146 C340,143.3 344,142.6 349,142.6 L349,146.6 C345,146.6 341,147.2 338.5,149 Z" fill="#3a3a3a"/>
<path d="M428.5,142.6 C434,142.6 438.5,143.3 440,146 L440,149 C438,147.3 433,146.8 428.5,146.8 Z" fill="#333"/>

<!-- ===== BRACKET / HANDLE ===== -->
<!-- cable gland (rear black cylinder) + lower column -->
<path d="M361.2,61.6 C361.2,59 371.7,59 371.7,61.6 L371.7,80 L361.2,80 Z" fill="#0e0e0e"/>
<ellipse cx="366.45" cy="61.3" rx="5.25" ry="1.6" fill="#2b2b2b"/>
<path d="M362.6,63.5 L362.6,76" stroke="#3e3e3e" stroke-width="1" fill="none"/>
<rect x="366.8" y="78" width="5" height="27.5" fill="#101010"/>
<!-- handle (black tube) -->
<path d="M379.4,77 L379.4,64.6 C379.4,60.8 381.8,58.9 385.6,58.9 L397,58.9 C400.4,58.9 402.6,60.6 403,64 L404.3,75" fill="none" stroke="#0d0d0d" stroke-width="6.9" stroke-linejoin="round"/>
<path d="M377.6,72 L377.6,64 C377.6,59.6 381,57.2 385.6,57.2 L397,57.2" fill="none" stroke="#4a4a4a" stroke-width="0.9" opacity="0.8"/>
<!-- second gland under the bar -->
<path d="M374,84 C374,82 384,82 384,84 L384,88.5 L385,90 L385,104 L373,104 L373,90 L374,88.5 Z" fill="#0e0e0e"/>
<path d="M375.3,85 L375.3,103" stroke="#3a3a3a" stroke-width="0.9" fill="none"/>
<!-- bracket: left face -->
<path d="M355.8,77.4 L367.2,76.5 L367.2,105.6 L348.2,108.8 L348.2,100.6 Z" fill="#4f4f4f"/>
<path d="M355.8,77.4 L348.2,100.6 L348.2,108.8 L350,108.5 L350,101 L357.2,77.3 Z" fill="#646464"/>
<!-- bracket: top bar -->
<path d="M355.8,77.4 L420,74.5 L420.8,77 L356.4,80.6 Z" fill="#474747"/>
<path d="M369.5,76.2 L388.3,75.2 L388.3,78.8 L369.5,79.8 Z" fill="#959595"/>
<path d="M389.7,75 L408.5,74 L408.5,77.6 L389.7,78.6 Z" fill="#8e8e8e"/>
<path d="M369.5,76.2 L388.3,75.2 L388.3,76.2 L369.5,77.2 Z" fill="#b5b5b5"/>
<path d="M389.7,75 L408.5,74 L408.5,75 L389.7,76 Z" fill="#adadad"/>
<rect x="367.6" y="76.4" width="1.9" height="5" fill="#e9e33a"/>
<rect x="407.6" y="73.2" width="2" height="2.6" fill="#e9e33a"/>
<!-- bracket: right side -->
<path d="M400.5,77.4 L420,74.5 L428.7,97.6 L428.7,110.6 L418.5,112.2 L405,112.2 L405,106 Z" fill="url(#gBracketR)"/>
<path d="M400.5,77.4 L408.6,76.2 L416.2,103 L416.2,112.2 L405,112.2 L405,106 Z" fill="#3a3a3a"/>
<path d="M420,74.5 L428.7,97.6 L428.7,110.6 L426,111 L426,98.4 L417.8,74.9 Z" fill="#454545"/>
<path d="M417.6,79 L419.6,110.8" stroke="#a2a2a2" stroke-width="0.9" fill="none" opacity="0.85"/>
<!-- base plate -->
<path d="M365,104.8 L394.5,103.2 L394.5,110 L365,112 Z" fill="#3a3a3a"/>
<path d="M365,104.8 L394.5,103.2 L394.5,104.6 L365,106.2 Z" fill="#7c7c7c"/>
<path d="M348.2,108.2 L367,105.4 L367,111.5 L348.2,112.5 Z" fill="#2e2e2e"/>
<!-- bolts -->
<rect x="358.2" y="100.6" width="3" height="6" rx="1.2" fill="#b9b9b9"/>
<rect x="387.2" y="99.8" width="3.4" height="4.6" rx="1.2" fill="#b0b0b0"/>

<rect x="420.4" y="0" width="188.6" height="51" fill="#393c3c"/>
<text x="425.6" y="45.3" font-family="'Liberation Sans', sans-serif" font-weight="bold" font-size="31.6" fill="#ffffff" stroke="#ffffff" stroke-width="1.3" stroke-linejoin="round" textLength="40.4" lengthAdjust="spacingAndGlyphs">DNB</text>
<g fill="none" stroke="#86bd55" stroke-width="0.9">
<polyline points="12.5,66.3 280.5,66.3 362,90.5"/>
<polyline points="12.5,110.3 280.5,110.3 354,127"/>
<polyline points="12.5,153.2 275,153.2 343,176.5"/>
<polyline points="12.5,198 282,198 390,187.5"/>
<polyline points="12.5,241.5 277,241.5 362,234"/>
<polyline points="12.5,275 275,275 368,308.7"/>
<polyline points="12.5,311.3 297,311.3 390,328"/>
<polyline points="12.5,356.3 280,356.3 390,336.7"/>
<polyline points="14,401.4 280,401.4 390,352.3"/>
<polyline points="12.5,438.2 267,438.2 368,405.5"/>
<polyline points="12.5,477.8 252.5,477.8 349.5,445.7"/>
</g>
<g fill="none" stroke="#8fd05a" stroke-width="0.9">
<circle cx="362" cy="90.5" r="1.6"/>
<circle cx="354" cy="127" r="1.6"/>
<circle cx="343" cy="176.5" r="1.6"/>
<circle cx="390" cy="187.5" r="1.6"/>
<circle cx="362" cy="234" r="1.6"/>
<circle cx="368" cy="308.7" r="1.6"/>
<circle cx="390" cy="328" r="1.6"/>
<circle cx="390" cy="336.7" r="1.6"/>
<circle cx="390" cy="352.3" r="1.6"/>
<circle cx="368" cy="405.5" r="1.6"/>
<circle cx="349.5" cy="445.7" r="1.6"/>
</g>
<g font-family="'Liberation Sans', sans-serif">
<text x="12.3" y="15.6" font-size="13.6" font-weight="bold" fill="#151515" textLength="242" lengthAdjust="spacingAndGlyphs">Distinta dei componenti e materiali</text>
<text x="12.3" y="33.9" font-size="13.3" font-weight="bold" font-style="italic" fill="#58595b" textLength="220" lengthAdjust="spacingAndGlyphs">List of components and materials</text>
</g>
<g font-family="'Liberation Sans', sans-serif" font-size="10">
<text x="12.5" y="63" textLength="54.5" lengthAdjust="spacingAndGlyphs" xml:space="preserve" style="white-space:pre"><tspan font-weight="bold" fill="#141414">Manico - </tspan><tspan font-style="italic" fill="#525552">Handle</tspan></text>
<text x="12.5" y="75.8" textLength="92.0" lengthAdjust="spacingAndGlyphs" xml:space="preserve" style="white-space:pre"><tspan font-weight="bold" fill="#141414">Acciaio Inox - </tspan><tspan font-style="italic" fill="#525552">Stainless steel</tspan></text>
<text x="12.5" y="106" textLength="105.2" lengthAdjust="spacingAndGlyphs" xml:space="preserve" style="white-space:pre"><tspan font-weight="bold" fill="#141414">Coperchio Motore - </tspan><tspan font-style="italic" fill="#525552">Motor Cover</tspan></text>
<text x="12.5" y="119.8" textLength="93.5" lengthAdjust="spacingAndGlyphs" xml:space="preserve" style="white-space:pre"><tspan font-weight="bold" fill="#141414">Ghisa GG20 - </tspan><tspan font-style="italic" fill="#525552">Cast Iron GG20</tspan></text>
<text x="12.5" y="150.4" textLength="94.5" lengthAdjust="spacingAndGlyphs" xml:space="preserve" style="white-space:pre"><tspan font-weight="bold" fill="#141414">Cassa Motore - </tspan><tspan font-style="italic" fill="#525552">Motor Casing</tspan></text>
<text x="12.5" y="164" textLength="93.5" lengthAdjust="spacingAndGlyphs" xml:space="preserve" style="white-space:pre"><tspan font-weight="bold" fill="#141414">Ghisa GG20 - </tspan><tspan font-style="italic" fill="#525552">Cast Iron GG20</tspan></text>
<text x="12.5" y="194.2" textLength="93.5" lengthAdjust="spacingAndGlyphs" xml:space="preserve" style="white-space:pre"><tspan font-weight="bold" fill="#141414">Albero Motore - </tspan><tspan font-style="italic" fill="#525552">Motor Shaft</tspan></text>
<text x="12.5" y="208" textLength="150.1" lengthAdjust="spacingAndGlyphs" xml:space="preserve" style="white-space:pre"><tspan font-weight="bold" fill="#141414">Acciaio Inox AISI 420 - </tspan><tspan font-style="italic" fill="#525552">Stainless steel AISI 420</tspan></text>
<text x="12.5" y="238.4" textLength="105.5" lengthAdjust="spacingAndGlyphs" xml:space="preserve" style="white-space:pre"><tspan font-weight="bold" fill="#141414">Motore elettrico - </tspan><tspan font-style="italic" fill="#525552">Electric Motor</tspan></text>
<text x="12.5" y="252" textLength="3.0" lengthAdjust="spacingAndGlyphs" xml:space="preserve" style="white-space:pre"><tspan font-weight="bold" fill="#141414">-</tspan></text>
<text x="12.5" y="271.6" textLength="165.5" lengthAdjust="spacingAndGlyphs" xml:space="preserve" style="white-space:pre"><tspan font-weight="bold" fill="#141414">Flangia Porta cuscinetto - </tspan><tspan font-style="italic" fill="#525552">Flange Bearing Support</tspan></text>
<text x="12.5" y="285" textLength="93.5" lengthAdjust="spacingAndGlyphs" xml:space="preserve" style="white-space:pre"><tspan font-weight="bold" fill="#141414">Ghisa GG20 - </tspan><tspan font-style="italic" fill="#525552">Cast Iron GG20</tspan></text>
<text x="12.5" y="307.5" textLength="170.2" lengthAdjust="spacingAndGlyphs" xml:space="preserve" style="white-space:pre"><tspan font-weight="bold" fill="#141414">Doppia Tenuta Meccanica - </tspan><tspan font-style="italic" fill="#525552">Double Mechanical Seal</tspan></text>
<text x="12.5" y="320.8" textLength="249.2" lengthAdjust="spacingAndGlyphs" xml:space="preserve" style="white-space:pre"><tspan font-weight="bold" fill="#141414">Lato motore carbone/ceramica - </tspan><tspan font-style="italic" fill="#525552">Motor side: Carbon/Ceramic</tspan><tspan font-weight="bold" fill="#141414"> (CA/CE/Viton)</tspan></text>
<text x="12.5" y="331.3" textLength="247.5" lengthAdjust="spacingAndGlyphs" xml:space="preserve" style="white-space:pre"><tspan font-weight="bold" fill="#141414">Lato girante carburo di silicio - </tspan><tspan font-style="italic" fill="#525552">Impeller side: Silicon carbide</tspan><tspan font-weight="bold" fill="#141414"> (SIC/SIC/Viton)</tspan></text>
<text x="12.5" y="353.4" textLength="138.3" lengthAdjust="spacingAndGlyphs" xml:space="preserve" style="white-space:pre"><tspan font-weight="bold" fill="#141414">Configurazione ATEX - </tspan><tspan font-style="italic" fill="#525552">ATEX Configuration</tspan></text>
<text x="12.5" y="366.6" textLength="168.5" lengthAdjust="spacingAndGlyphs" xml:space="preserve" style="white-space:pre"><tspan font-weight="bold" fill="#141414">Lato motore : tenuta a labbro - </tspan><tspan font-style="italic" fill="#525552">Motor side: Lip seal</tspan></text>
<text x="12.5" y="376.7" textLength="247.5" lengthAdjust="spacingAndGlyphs" xml:space="preserve" style="white-space:pre"><tspan font-weight="bold" fill="#141414">Lato girante carburo di silicio - </tspan><tspan font-style="italic" fill="#525552">Impeller side: Silicon carbide</tspan><tspan font-weight="bold" fill="#141414"> (SIC/SIC/Viton)</tspan></text>
<text x="14.2" y="397.7" textLength="86.3" lengthAdjust="spacingAndGlyphs" xml:space="preserve" style="white-space:pre"><tspan font-weight="bold" fill="#141414">Tenuta a labbro - </tspan><tspan font-style="italic" fill="#525552">Lips seal</tspan></text>
<text x="14.2" y="411.6" textLength="85.3" lengthAdjust="spacingAndGlyphs" xml:space="preserve" style="white-space:pre"><tspan font-weight="bold" fill="#141414">Gomma NBR- </tspan><tspan font-style="italic" fill="#525552">NBR rubber</tspan></text>
<text x="12.5" y="436" textLength="58.3" lengthAdjust="spacingAndGlyphs" xml:space="preserve" style="white-space:pre"><tspan font-weight="bold" fill="#141414">Girante - </tspan><tspan font-style="italic" fill="#525552">Impeller</tspan></text>
<text x="12.5" y="449.8" textLength="93.0" lengthAdjust="spacingAndGlyphs" xml:space="preserve" style="white-space:pre"><tspan font-weight="bold" fill="#141414">Ghisa GG20 - </tspan><tspan font-style="italic" fill="#525552">Cast Iron GG20</tspan></text>
<text x="12.5" y="475.5" textLength="88.5" lengthAdjust="spacingAndGlyphs" xml:space="preserve" style="white-space:pre"><tspan font-weight="bold" fill="#141414">Corpo Pompa - </tspan><tspan font-style="italic" fill="#525552">Body Pump</tspan></text>
<text x="12.5" y="488.8" textLength="93.0" lengthAdjust="spacingAndGlyphs" xml:space="preserve" style="white-space:pre"><tspan font-weight="bold" fill="#141414">Ghisa GG20 - </tspan><tspan font-style="italic" fill="#525552">Cast Iron GG20</tspan></text>
</g>
</svg>
</body></html>
